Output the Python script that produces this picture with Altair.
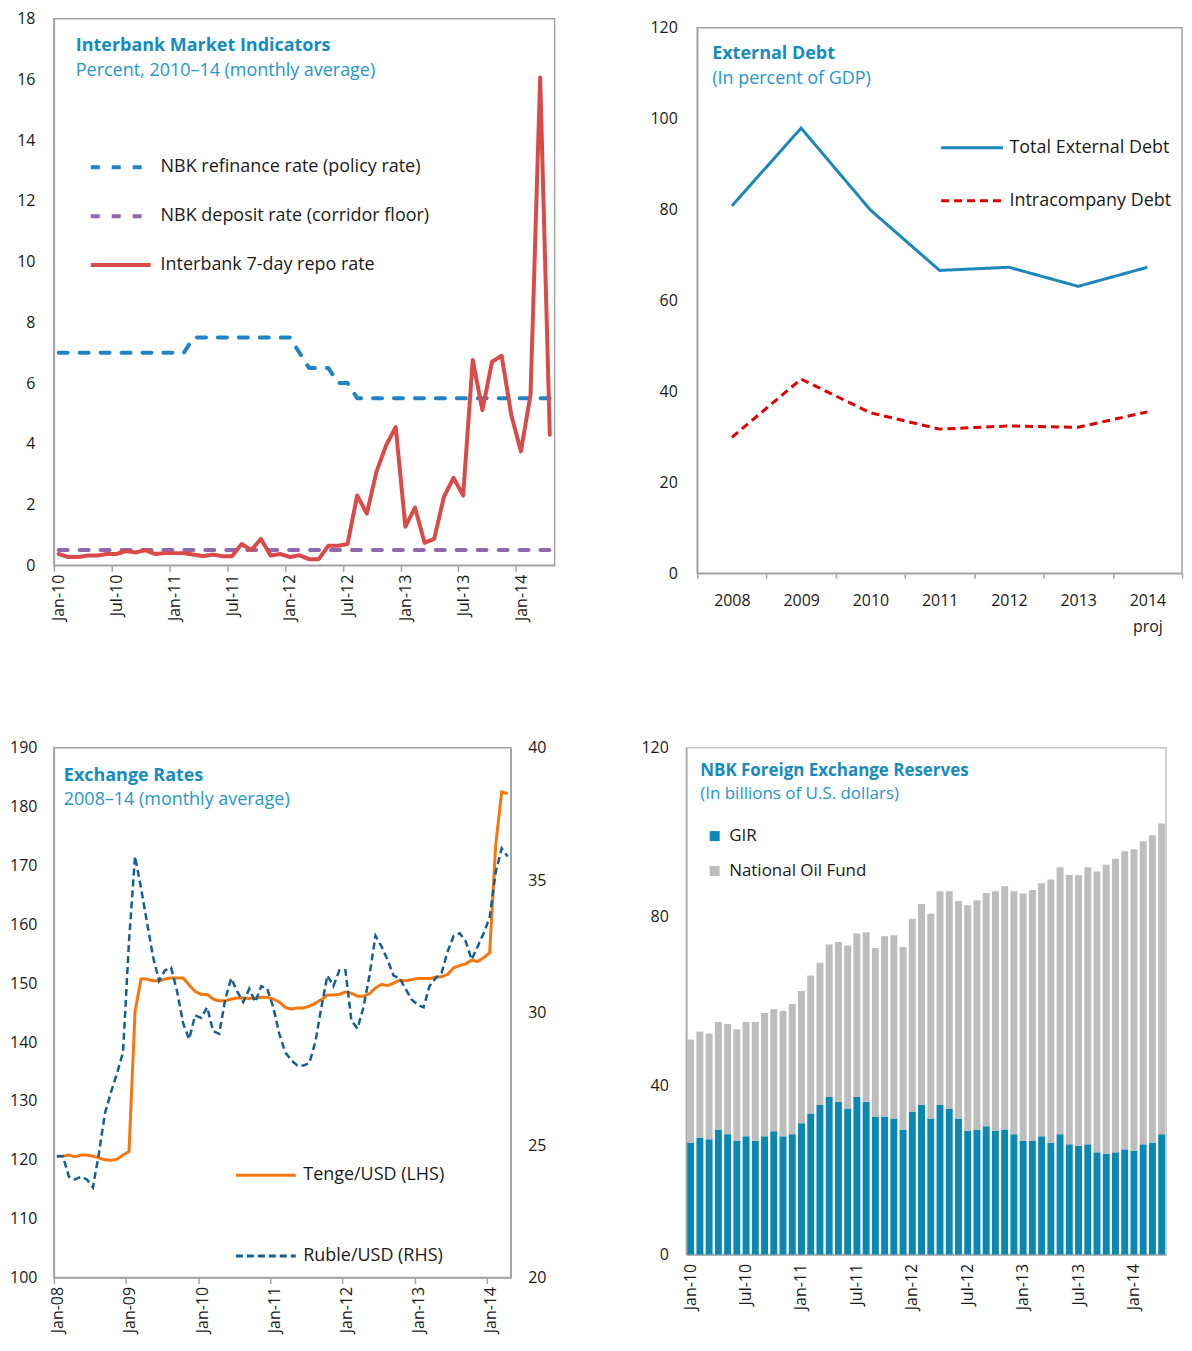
import altair as alt
import pandas as pd

FONT = "Open Sans"
TITLE_COLOR = "#168bc0"
SUB_COLOR = "#2397cc"
TEXT_COLOR = "#1a1a1a"
FRAME = "#a3a3a3"

# ---------------- Panel 1: Interbank Market Indicators (Jan-10 .. Apr-14) ----------------
p1_months = list(range(52))
p1_tick_values = [0, 6, 12, 18, 24, 30, 36, 42, 48]
p1_tick_labels = ["Jan-10", "Jul-10", "Jan-11", "Jul-11", "Jan-12", "Jul-12", "Jan-13", "Jul-13", "Jan-14"]
p1_y_ticks = [0, 2, 4, 6, 8, 10, 12, 14, 16, 18]
p1_series = ["NBK refinance rate (policy rate)", "NBK deposit rate (corridor floor)", "Interbank 7-day repo rate"]
p1_colors = ["#1f84c6", "#9068b0", "#d94a48"]
p1_dashes = [[9, 12], [9, 12], [1, 0]]
p1_refinance = [7.0, 7.0, 7.0, 7.0, 7.0, 7.0, 7.0, 7.0, 7.0, 7.0, 7.0, 7.0, 7.0, 7.0,
                7.5, 7.5, 7.5, 7.5, 7.5, 7.5, 7.5, 7.5, 7.5, 7.5, 7.5,
                7.0, 6.5, 6.5, 6.5, 6.0, 6.0,
                5.5, 5.5, 5.5, 5.5, 5.5, 5.5, 5.5, 5.5, 5.5, 5.5, 5.5,
                5.5, 5.5, 5.5, 5.5, 5.5, 5.5, 5.5, 5.5, 5.5, 5.5]
p1_deposit = [0.5, 0.5, 0.5, 0.5, 0.5, 0.5, 0.5, 0.5, 0.5, 0.5, 0.5, 0.5, 0.5,
              0.5, 0.5, 0.5, 0.5, 0.5, 0.5, 0.5, 0.5, 0.5, 0.5, 0.5, 0.5, 0.5,
              0.5, 0.5, 0.5, 0.5, 0.5, 0.5, 0.5, 0.5, 0.5, 0.5, 0.5, 0.5, 0.5,
              0.5, 0.5, 0.5, 0.5, 0.5, 0.5, 0.5, 0.5, 0.5, 0.5, 0.5, 0.5, 0.5]
p1_repo = [0.37, 0.27, 0.27, 0.32, 0.32, 0.37, 0.37, 0.47, 0.42, 0.5, 0.37, 0.4,
           0.4, 0.4, 0.35, 0.3, 0.35, 0.3, 0.3, 0.7, 0.5, 0.87, 0.32, 0.37,
           0.27, 0.33, 0.2, 0.2, 0.64, 0.64, 0.7, 2.3, 1.7, 3.08, 3.95, 4.55,
           1.27, 1.9, 0.74, 0.87, 2.25, 2.88, 2.3, 6.76, 5.11, 6.7, 6.9, 4.95,
           3.75, 5.62, 16.06, 4.3]

# ---------------- Panel 2: External Debt ----------------
p2_years = ["2008", "2009", "2010", "2011", "2012", "2013", "2014"]
p2_y_ticks = [0, 20, 40, 60, 80, 100, 120]
p2_series = ["Total External Debt", "Intracompany Debt"]
p2_colors = ["#1a88b8", "#e00000"]
p2_dashes = [[1, 0], [8, 5]]
p2_total = [80.8, 97.9, 79.9, 66.6, 67.3, 63.1, 67.3]
p2_intra = [29.9, 42.7, 35.3, 31.7, 32.4, 32.1, 35.5]

# ---------------- Panel 3: Exchange Rates (Jan-08 .. Apr-14) ----------------
p3_months = list(range(76))
p3_tick_values = [0, 12, 24, 36, 48, 60, 72]
p3_tick_labels = ["Jan-08", "Jan-09", "Jan-10", "Jan-11", "Jan-12", "Jan-13", "Jan-14"]
p3_left_ticks = [100, 110, 120, 130, 140, 150, 160, 170, 180, 190]
p3_right_ticks = [20, 25, 30, 35, 40]
p3_series = ["Tenge/USD (LHS)", "Ruble/USD (RHS)"]
p3_colors = ["#f7760f", "#135f94"]
p3_dashes = [[1, 0], [7, 4]]
p3_tenge = [120.6, 120.6, 120.8, 120.5, 120.8, 120.8, 120.6, 120.3, 120.0, 119.9, 120.1, 120.8,
            121.4, 145.2, 150.7, 150.7, 150.4, 150.4, 150.7, 150.9, 150.9, 150.9, 149.7, 148.6,
            148.1, 148.1, 147.3, 147.0, 147.0, 147.3, 147.5, 147.5, 147.4, 147.5, 147.6, 147.6,
            147.3, 146.8, 145.9, 145.6, 145.8, 145.8, 146.1, 146.6, 147.2, 148.0, 148.0, 148.1,
            148.5, 148.3, 147.8, 147.8, 148.2, 149.2, 149.8, 149.6, 150.0, 150.5, 150.4, 150.6,
            150.8, 150.8, 150.8, 151.0, 151.1, 151.5, 152.6, 153.0, 153.3, 153.9, 153.7, 154.3,
            155.2, 173.5, 182.5, 182.2]
p3_ruble = [24.58, 24.58, 23.8, 23.7, 23.8, 23.7, 23.4, 24.7, 26.2, 27.0, 27.7, 28.5,
            32.7, 35.9, 34.7, 33.4, 32.1, 31.2, 31.6, 31.7, 30.8, 29.6, 29.0, 29.9,
            29.8, 30.2, 29.3, 29.2, 30.5, 31.3, 30.8, 30.4, 30.9, 30.4, 31.0, 30.9,
            30.2, 29.2, 28.5, 28.2, 28.0, 28.0, 28.1, 28.9, 30.2, 31.4, 31.0, 31.6,
            31.6, 29.7, 29.4, 30.2, 31.4, 32.9, 32.5, 32.0, 31.4, 31.3, 30.9, 30.5,
            30.3, 30.2, 31.0, 31.3, 31.5, 32.3, 32.9, 33.0, 32.7, 32.0, 32.5, 33.0,
            33.6, 35.3, 36.2, 35.9]

# ---------------- Panel 4: NBK Foreign Exchange Reserves (Jan-10 .. Apr-14) ----------------
p4_months = list(range(52))
p4_tick_values = [0, 6, 12, 18, 24, 30, 36, 42, 48]
p4_tick_labels = ["Jan-10", "Jul-10", "Jan-11", "Jul-11", "Jan-12", "Jul-12", "Jan-13", "Jul-13", "Jan-14"]
p4_y_ticks = [0, 40, 80, 120]
p4_series = ["GIR", "National Oil Fund"]
p4_colors = ["#0a88b2", "#bdbdbd"]
p4_gir = [26.5, 27.7, 27.3, 29.6, 28.5, 26.9, 28.0, 26.9, 28.0, 29.2, 28.0, 28.5,
          31.1, 33.4, 35.4, 37.3, 36.2, 34.6, 37.3, 36.2, 32.7, 32.7, 32.2, 29.6,
          33.8, 35.4, 32.2, 35.4, 34.6, 32.2, 29.3, 29.6, 30.4, 29.3, 29.6, 28.5,
          26.9, 26.9, 28.0, 26.5, 28.5, 26.1, 25.7, 26.1, 24.2, 23.8, 24.2, 24.9,
          24.6, 26.1, 26.5, 28.5]
p4_total = [50.9, 52.8, 52.3, 55.1, 54.6, 53.3, 55.1, 55.1, 57.2, 58.1, 57.7, 59.3,
            62.4, 66.1, 69.1, 73.4, 74.0, 73.2, 76.0, 76.3, 72.6, 75.4, 75.6, 72.8,
            79.5, 83.0, 80.7, 86.0, 86.0, 83.7, 82.7, 83.9, 85.6, 86.0, 87.2, 86.0,
            85.5, 86.3, 87.9, 88.8, 91.7, 89.9, 89.8, 91.7, 90.7, 92.3, 93.7, 95.5,
            96.0, 97.9, 99.3, 102.1]


# ---------------- helpers ----------------
def long_frame(index, named):
    rows = []
    for name, vals in named:
        for i, v in zip(index, vals):
            rows.append({"m": i, "series": name, "value": v})
    return pd.DataFrame(rows)


def lookup_expr(labels, step):
    arr = ",".join("'" + s + "'" for s in labels)
    return "[" + arr + "][round(datum.value / " + str(step) + ")]"


def month_axis(values, labels, step, offset, extent, tick):
    return alt.Axis(values=values, labelExpr=lookup_expr(labels, step), labelAngle=270,
                    labelAlign="right", labelBaseline="middle", labelOffset=offset,
                    tickSize=tick, labelPadding=3, minExtent=extent, title=None)


def y_axis(values, pad, extent, orient="left"):
    return alt.Axis(values=values, tickSize=0, labelPadding=pad, minExtent=extent,
                    title=None, orient=orient)


def text_layer(text, x, y, size, weight, color):
    return alt.Chart(pd.DataFrame({"label": [text]})).mark_text(
        align="left", baseline="alphabetic", font=FONT, fontSize=size,
        fontWeight=weight, color=color
    ).encode(text="label:N", x=alt.value(x), y=alt.value(y))


def line_legend(x, y, length, row_pad, label_offset, stroke_width):
    return alt.Legend(title=None, orient="none", legendX=x, legendY=y,
                      symbolType="stroke", symbolSize=length * length,
                      symbolStrokeWidth=stroke_width, labelFont=FONT, labelFontSize=18,
                      labelColor=TEXT_COLOR, labelOffset=label_offset, rowPadding=row_pad,
                      padding=0, labelLimit=500, direction="vertical")


def independent(c):
    return c.resolve_scale(color="independent", strokeDash="independent").resolve_legend(
        color="independent", strokeDash="independent")


# ---------------- Panel 1 ----------------
df1 = long_frame(p1_months, zip(p1_series, [p1_refinance, p1_deposit, p1_repo]))
leg1 = line_legend(35, 117, 60, 8, 8, 4)
p1_lines = alt.Chart(df1).transform_calculate(t="datum.m + 0.5").mark_line(
    strokeWidth=4, strokeCap="round", strokeJoin="round"
).encode(
    x=alt.X("t:Q", scale=alt.Scale(domain=[0, 52], nice=False, zero=False),
            axis=month_axis(p1_tick_values, p1_tick_labels, 6, 5, 70, 6)),
    y=alt.Y("value:Q", scale=alt.Scale(domain=[0, 18], nice=False),
            axis=y_axis(p1_y_ticks, 19, 45)),
    color=alt.Color("series:N", scale=alt.Scale(domain=p1_series, range=p1_colors), legend=leg1),
    strokeDash=alt.StrokeDash("series:N", scale=alt.Scale(domain=p1_series, range=p1_dashes), legend=leg1),
)
p1 = alt.layer(
    p1_lines,
    text_layer("Interbank Market Indicators", 22, 32, 18, "bold", TITLE_COLOR),
    text_layer("Percent, 2010\u201314 (monthly average)", 22, 57, 18, "normal", SUB_COLOR),
).properties(width=502, height=548)

# ---------------- Panel 2 ----------------
df2 = pd.DataFrame({
    "year": p2_years + p2_years,
    "series": [p2_series[0]] * len(p2_years) + [p2_series[1]] * len(p2_years),
    "value": p2_total + p2_intra,
})
leg2 = line_legend(243, 88, 62, 11, 5, 3)
p2_lines = alt.Chart(df2).mark_line(strokeWidth=3).encode(
    x=alt.X("year:N", scale=alt.Scale(type="band", paddingInner=0, paddingOuter=0),
            axis=alt.Axis(labelAngle=0, tickBand="extent", tickSize=5, labelPadding=14,
                          labelExpr="datum.value == '2014' ? ['2014', 'proj'] : datum.value",
                          labelLineHeight=26, minExtent=62, title=None)),
    y=alt.Y("value:Q", scale=alt.Scale(domain=[0, 120], nice=False),
            axis=y_axis(p2_y_ticks, 20, 48)),
    color=alt.Color("series:N", scale=alt.Scale(domain=p2_series, range=p2_colors), legend=leg2),
    strokeDash=alt.StrokeDash("series:N", scale=alt.Scale(domain=p2_series, range=p2_dashes), legend=leg2),
)
p2 = alt.layer(
    p2_lines,
    text_layer("External Debt", 15, 31, 18, "bold", TITLE_COLOR),
    text_layer("(In percent of GDP)", 15, 56, 18, "normal", SUB_COLOR),
).properties(width=486, height=547)

spacer = alt.Chart(pd.DataFrame({"s": [""]})).mark_text().encode(text="s:N").properties(
    width=10, height=9, view=alt.ViewBackground(stroke="transparent"))

# ---------------- Panel 3 ----------------
df3t = pd.DataFrame({"m": p3_months, "series": p3_series[0], "value": p3_tenge})
df3r = pd.DataFrame({"m": p3_months, "series": p3_series[1], "value": p3_ruble})
leg3 = line_legend(181, 397, 60, 40, 6, 3)
x3 = alt.X("t:Q", scale=alt.Scale(domain=[0, 76], nice=False, zero=False),
           axis=month_axis(p3_tick_values, p3_tick_labels, 12, 4, 40, 6))
c3 = alt.Color("series:N", scale=alt.Scale(domain=p3_series, range=p3_colors), legend=leg3)
d3 = alt.StrokeDash("series:N", scale=alt.Scale(domain=p3_series, range=p3_dashes), legend=leg3)
p3_tenge_line = alt.Chart(df3t).transform_calculate(t="datum.m + 0.5").mark_line(strokeWidth=3).encode(
    x=x3,
    y=alt.Y("value:Q", scale=alt.Scale(domain=[100, 190], nice=False, zero=False),
            axis=y_axis(p3_left_ticks, 17, 45)),
    color=c3, strokeDash=d3,
)
p3_ruble_line = alt.Chart(df3r).transform_calculate(t="datum.m + 0.5").mark_line(strokeWidth=2.5).encode(
    x=x3,
    y=alt.Y("value:Q", scale=alt.Scale(domain=[20, 40], nice=False, zero=False),
            axis=y_axis(p3_right_ticks, 17, 45, orient="right")),
    color=c3, strokeDash=d3,
)
p3 = alt.layer(
    p3_tenge_line, p3_ruble_line,
    text_layer("Exchange Rates", 10, 33, 18, "bold", TITLE_COLOR),
    text_layer("2008\u201314 (monthly average)", 10, 57, 18, "normal", SUB_COLOR),
).resolve_scale(y="independent").properties(width=458, height=531)

# ---------------- Panel 4 ----------------
df4 = pd.DataFrame({"m": p4_months, "gir": p4_gir, "total": p4_total})
leg4 = alt.Legend(title=None, orient="none", legendX=20, legendY=80, symbolType="square",
                  symbolSize=100, symbolStrokeWidth=0, labelFont=FONT, labelFontSize=17,
                  labelColor=TEXT_COLOR, labelOffset=6, rowPadding=17, padding=0,
                  labelLimit=500, direction="vertical")
x4 = alt.X("m:O", scale=alt.Scale(paddingInner=0.25, paddingOuter=0.1),
           axis=alt.Axis(values=p4_tick_values, labelExpr=lookup_expr(p4_tick_labels, 6),
                         labelAngle=270, labelAlign="right", labelBaseline="middle",
                         tickSize=0, labelPadding=9, title=None))
c4 = alt.Color("series:N", scale=alt.Scale(domain=p4_series, range=p4_colors), legend=leg4)
p4_gir_bars = alt.Chart(df4).transform_calculate(series="'GIR'").mark_bar().encode(
    x=x4,
    y=alt.Y("gir:Q", scale=alt.Scale(domain=[0, 120], nice=False), axis=y_axis(p4_y_ticks, 18, 50)),
    color=c4,
)
p4_oil_bars = alt.Chart(df4).transform_calculate(series="'National Oil Fund'").mark_bar().encode(
    x=x4,
    y=alt.Y("total:Q"),
    y2=alt.Y2("gir:Q"),
    color=c4,
)
p4 = alt.layer(
    p4_gir_bars, p4_oil_bars,
    text_layer("NBK Foreign Exchange Reserves", 14, 28, 17, "bold", TITLE_COLOR),
    text_layer("(In billions of U.S. dollars)", 14, 51, 17, "normal", SUB_COLOR),
).properties(width=481, height=508, view=alt.ViewBackground(stroke="#c4c4c4"))

# ---------------- layout ----------------
row1 = independent(alt.hconcat(
    p1, independent(alt.vconcat(spacer, p2, spacing=0, bounds="flush")), spacing=93))
row2 = independent(alt.hconcat(p3, p4, spacing=79))
chart = independent(alt.concat(row1, row2, columns=1, spacing=103, align="none")).properties(
    padding={"left": 0, "top": 0, "right": 0, "bottom": 0}
).configure_view(
    stroke=FRAME, strokeWidth=1.5
).configure_axis(
    labelFont=FONT, labelFontSize=16, labelColor=TEXT_COLOR, domainColor=FRAME,
    domainWidth=1.5, tickColor=FRAME, tickWidth=1.5, grid=False
)

chart.save("out.html", embed_options={"renderer": "svg", "actions": False})
